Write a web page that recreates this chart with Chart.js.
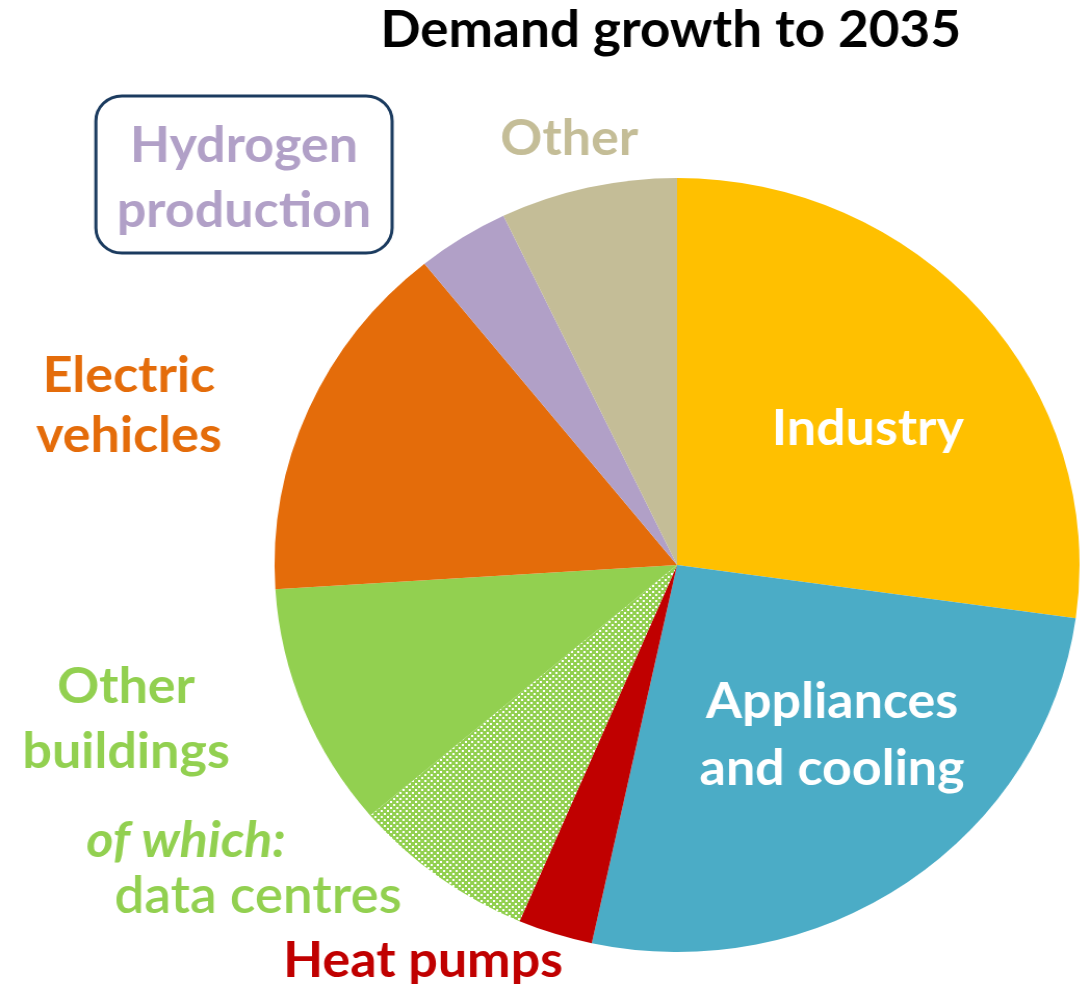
<!DOCTYPE html>
<html>
<head>
<meta charset="utf-8">
<script src="https://cdn.jsdelivr.net/npm/chart.js@4.4.1/dist/chart.umd.min.js"></script>
<style>
    html, body { margin: 0; padding: 0; background: #fff; overflow: hidden; }
    /* the source picture is stretched a little horizontally, so draw narrow and widen */
    #wrap { width: 1049px; height: 984px; transform: scaleX(1.04004); transform-origin: 0 0; }
</style>
</head>
<body>
<div id="wrap"><canvas id="demand-chart" width="1049" height="984"></canvas></div>
<script>
// Share of demand growth to 2035 (%), clockwise from 12 o'clock
const categories = ['Industry', 'Appliances and cooling', 'Heat pumps', 'Data centres',
    'Other buildings', 'Electric vehicles', 'Hydrogen production', 'Other'];
const shares = [27.2, 26.2, 3.0, 7.4, 10.2, 15.2, 3.7, 7.1];
const sliceColours = ['#FFC000', '#4BACC6', '#C00000', null, '#92D050', '#E46C0A', '#B1A0C7', '#C4BD97'];

const chartTitle = 'Demand growth to 2035';

// Label text, placed relative to the pie centre in units of its radius
const labels = [
    { text: chartTitle, color: '#000000', style: 'bold', size: 51, dx: -0.016, dy: -1.339 },
    { text: 'Industry', color: '#FFFFFF', style: 'bold', size: 50, dx: 0.474, dy: -0.310 },
    { text: 'Appliances', color: '#FFFFFF', style: 'bold', size: 50, dx: 0.385, dy: 0.395 },
    { text: 'and cooling', color: '#FFFFFF', style: 'bold', size: 50, dx: 0.385, dy: 0.568 },
    { text: 'Other', color: '#C4BD97', style: 'bold', size: 50, dx: -0.268, dy: -1.059 },
    { text: 'Hydrogen', color: '#B1A0C7', style: 'bold', size: 50, dx: -1.076, dy: -1.041 },
    { text: 'production', color: '#B1A0C7', style: 'bold', size: 50, dx: -1.076, dy: -0.873 },
    { text: 'Electric', color: '#E46C0A', style: 'bold', size: 50, dx: -1.362, dy: -0.447 },
    { text: 'vehicles', color: '#E46C0A', style: 'bold', size: 50, dx: -1.362, dy: -0.292 },
    { text: 'Other', color: '#92D050', style: 'bold', size: 50, dx: -1.369, dy: 0.357 },
    { text: 'buildings', color: '#92D050', style: 'bold', size: 50, dx: -1.369, dy: 0.525 },
    { text: 'of which:', color: '#92D050', style: 'italic bold', size: 50, dx: -1.220, dy: 0.755 },
    { text: 'data centres', color: '#92D050', style: '600', size: 51, dx: -1.041, dy: 0.899 },
    { text: 'Heat pumps', color: '#C00000', style: 'bold', size: 50, dx: -0.631, dy: 1.065 }
];

// Green with a white dot lattice for the data centres slice
function dotPattern() {
    const tile = document.createElement('canvas');
    tile.width = 6;
    tile.height = 6;
    const t = tile.getContext('2d');
    t.fillStyle = '#92D050';
    t.fillRect(0, 0, 6, 6);
    t.fillStyle = '#FFFFFF';
    t.fillRect(0, 0, 2, 2);
    t.fillRect(3, 3, 2, 2);
    return t.createPattern(tile, 'repeat');
}

const sliceLabels = {
    id: 'sliceLabels',
    afterDraw(chart) {
        const arc = chart.getDatasetMeta(0).data[0];
        const cx = arc.x, cy = arc.y, r = arc.outerRadius;
        const ctx = chart.ctx;
        ctx.save();

        // rounded box round the hydrogen label
        ctx.strokeStyle = '#1B3B5F';
        ctx.lineWidth = 3;
        ctx.beginPath();
        ctx.roundRect(cx - 1.444 * r, cy - 1.212 * r, 0.736 * r, 0.406 * r, 25);
        ctx.stroke();

        ctx.textAlign = 'center';
        ctx.textBaseline = 'alphabetic';
        labels.forEach(l => {
            ctx.font = `${l.style} ${l.size}px Lato, "Open Sans", sans-serif`;
            ctx.fillStyle = l.color;
            ctx.fillText(l.text, cx + l.dx * r, cy + l.dy * r);
        });
        ctx.restore();
    }
};

const canvas = document.getElementById('demand-chart');
const colours = sliceColours.map(c => c || dotPattern());

new Chart(canvas.getContext('2d'), {
    type: 'pie',
    data: {
        labels: categories,
        datasets: [{
            data: shares,
            backgroundColor: colours,
            borderWidth: 0,
            hoverOffset: 0
        }]
    },
    options: {
        responsive: false,
        animation: false,
        layout: { padding: { top: 178, bottom: 32, left: 264, right: 11 } },
        plugins: {
            legend: { display: false },
            tooltip: { enabled: false },
            title: { display: false }
        }
    },
    plugins: [sliceLabels]
});
</script>
</body>
</html>
